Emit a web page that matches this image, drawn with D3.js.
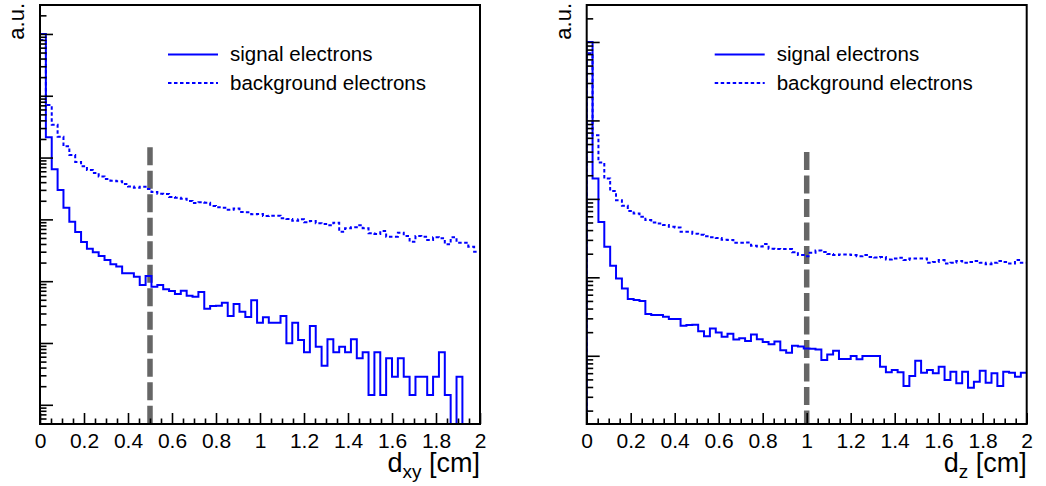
<!DOCTYPE html>
<html>
<head>
<meta charset="utf-8">
<script src="https://cdn.jsdelivr.net/npm/d3@7"></script>
<style>
  body { margin: 0; background: #fff; }
  svg { display: block; }
  text { font-family: "Liberation Sans", Arial, Helvetica, sans-serif; fill: #000; }
</style>
</head>
<body>
<svg id="chart" width="1046" height="486"></svg>
<script>
// histogram binning (both panels: 75 bins from 0 to 2 cm)
var nBins = 75;
var xRange = [0, 2];

var xMajorTicks = [0, 0.2, 0.4, 0.6, 0.8, 1, 1.2, 1.4, 1.6, 1.8, 2];
var legendLabels = ['signal electrons', 'background electrons'];

// d_xy panel, a.u.
var sigDxy = [
  1000000, 21300, 6470, 2990, 1545, 918, 625, 431, 336, 294,
  256, 220, 188, 172, 134, 134, 118, 86.8, 121, 81.5,
  86.8, 74, 69.4, 62.1, 70.2, 58.2, 56.1, 66.8, 35.9, 39.7,
  40.1, 44.9, 27.3, 42.8, 32.1, 26.4, 49.1, 21.3, 26.1, 21.3,
  21.3, 27.3, 9.89, 21.3, 11.2, 7.07, 18.8, 8.71, 4.29, 11.5,
  7.07, 8.71, 7.07, 11.5, 5.65, 7.07, 1.44, 7.07, 1.44, 5.65,
  2.85, 5.65, 2.85, 1.44, 2.85, 2.85, 1.44, 2.85, 7.07, 1.44,
  0, 2.85, 0, 0, 0
];
var bkgDxy = [
  800000, 71000, 34000, 21800, 15200, 11000, 8490, 7230, 6300, 5630,
  4950, 4500, 4230, 4140, 3740, 3410, 3260, 3380, 3100, 2770,
  2600, 2580, 2300, 2240, 2160, 1990, 1840, 1890, 1860, 1650,
  1570, 1545, 1435, 1500, 1318, 1303, 1210, 1222, 1135, 1148,
  1148, 1042, 1014, 953, 1004, 898, 942, 865, 843, 802,
  885, 632, 718, 745, 802, 718, 596, 581, 649, 525,
  525, 610, 538, 436, 538, 525, 464, 513, 494, 395,
  513, 420, 420, 362, 300
];

// d_z panel, a.u.
var sigDz = [
  10000, 182, 50.9, 24.5, 14.0, 9.68, 7.22, 5.28, 5.13, 4.98,
  3.40, 3.30, 3.30, 3.14, 2.94, 2.94, 2.41, 2.46, 2.48, 2.06,
  1.78, 2.23, 1.98, 1.75, 1.91, 1.61, 1.67, 1.54, 1.87, 1.62,
  1.50, 1.40, 1.52, 1.18, 1.09, 1.34, 1.31, 1.24, 1.23, 1.20,
  0.881, 1.04, 1.16, 0.908, 0.908, 0.991, 0.900, 0.991, 0.991, 0.991,
  0.724, 0.615, 0.657, 0.615, 0.411, 0.551, 0.864, 0.607, 0.657, 0.597,
  0.724, 0.490, 0.625, 0.445, 0.625, 0.391, 0.467, 0.644, 0.453, 0.597,
  0.411, 0.625, 0.607, 0.540, 0.607
];
var bkgDz = [
  7180, 648, 291, 182, 126, 96.3, 81.5, 70.3, 65.2, 59.0,
  53.6, 50.1, 48.6, 46.3, 44.0, 43.2, 38.0, 38.0, 36.0, 35.0,
  33.5, 32.5, 31.6, 30.2, 30.0, 27.5, 27.5, 27.7, 25.3, 24.8,
  26.5, 23.2, 23.0, 22.9, 22.9, 20.9, 19.2, 18.6, 20.5, 21.9,
  21.1, 19.8, 19.2, 19.6, 19.6, 19.2, 18.6, 19.2, 18.2, 17.9,
  18.2, 16.9, 17.4, 17.7, 16.6, 17.4, 17.4, 17.4, 15.3, 15.7,
  16.6, 15.0, 15.3, 16.2, 15.3, 15.7, 16.1, 15.3, 14.7, 15.3,
  16.1, 15.7, 15.0, 16.6, 15.3
];

// y ranges of the frames and the cut lines
var yDomDxy = [0.489, 2.94e6];
var yDomDz = [0.135, 29600];
var cutDxy = [0.5, 14700];
var cutDz = [1.0, 397];

var svg = d3.select('#chart');
var W = 440, H = 419;

function drawPanel(left, top, opts){
  var
    g = svg.append('g').attr('transform', 'translate(' + left + ',' + top + ')'),
    xScale = d3.scaleLinear().domain(xRange).range([0, W]),
    yScale = d3.scaleLog().domain(opts.yDomain).range([H, 0]),
    binW = (xRange[1] - xRange[0]) / nBins
    ;

  function Y(v){
    if(!(v > 0)) return H;
    return Math.max(0, Math.min(H, yScale(v)));
  }

  function stepPath(values){
    var pts = [[xScale(xRange[0]), H]];
    values.forEach(function(v, i){
      pts.push([xScale(xRange[0] + i * binW), Y(v)]);
    });
    pts.push([xScale(xRange[1]), Y(values[values.length - 1])]);
    return d3.line().curve(d3.curveStepAfter)(pts);
  }

  g.append('clipPath').attr('id', 'clip' + left)
    .append('rect').attr('width', W).attr('height', H);

  var plot = g.append('g').attr('clip-path', 'url(#clip' + left + ')');

  // cut line
  plot.append('line')
    .attr('x1', xScale(opts.cut[0])).attr('x2', xScale(opts.cut[0]))
    .attr('y1', yScale(opts.cut[1])).attr('y2', H)
    .attr('stroke', '#666').attr('stroke-width', 5.5)
    .attr('stroke-dasharray', '18,5.5');

  plot.append('path')
    .attr('d', stepPath(opts.bkg))
    .attr('fill', 'none').attr('stroke', '#0000ff').attr('stroke-width', 2)
    .attr('stroke-dasharray', '3.5,2.5');

  plot.append('path')
    .attr('d', stepPath(opts.sig))
    .attr('fill', 'none').attr('stroke', '#0000ff').attr('stroke-width', 2);

  // x axis, ticks point inwards
  var xMinor = d3.range(0, 41).map(function(i){ return i * 0.05; })
    .filter(function(v){ return Math.abs(v * 5 - Math.round(v * 5)) > 1e-6; });

  g.append('g')
    .attr('transform', 'translate(0,' + H + ')')
    .call(d3.axisBottom(xScale).tickValues(xMinor).tickSize(-5.5).tickSizeOuter(0).tickFormat(''))
    .call(function(a){ a.select('.domain').remove(); a.selectAll('line').attr('stroke-width', 1.6); });

  g.append('g')
    .attr('transform', 'translate(0,' + H + ')')
    .call(d3.axisBottom(xScale).tickValues(xMajorTicks).tickSize(-11).tickSizeOuter(0)
      .tickPadding(9).tickFormat(d3.format('~g')))
    .call(function(a){
      a.select('.domain').remove();
      a.selectAll('line').attr('stroke-width', 1.6);
      a.selectAll('text').attr('font-size', 21).attr('font-family', null);
    });

  // y axis, log ticks, no labels
  var lo = Math.floor(Math.log10(opts.yDomain[0])), hi = Math.ceil(Math.log10(opts.yDomain[1]));
  var yMajor = [], yMinor = [];
  d3.range(lo, hi + 1).forEach(function(e){
    var base = Math.pow(10, e);
    if(base >= opts.yDomain[0] && base <= opts.yDomain[1]) yMajor.push(base);
    d3.range(2, 10).forEach(function(k){
      var v = k * base;
      if(v >= opts.yDomain[0] && v <= opts.yDomain[1]) yMinor.push(v);
    });
  });

  g.append('g')
    .call(d3.axisLeft(yScale).tickValues(yMinor).tickSize(-6.5).tickSizeOuter(0).tickFormat(''))
    .call(function(a){ a.select('.domain').remove(); a.selectAll('line').attr('stroke-width', 1.6); });
  g.append('g')
    .call(d3.axisLeft(yScale).tickValues(yMajor).tickSize(-13).tickSizeOuter(0).tickFormat(''))
    .call(function(a){ a.select('.domain').remove(); a.selectAll('line').attr('stroke-width', 1.6); });

  // frame
  g.append('rect')
    .attr('width', W).attr('height', H)
    .attr('fill', 'none').attr('stroke', '#000').attr('stroke-width', 2);

  // axis titles
  var xt = g.append('text')
    .attr('x', W).attr('y', 472 - top)
    .attr('text-anchor', 'end').attr('font-size', 27);
  xt.append('tspan').text('d');
  xt.append('tspan').attr('font-size', 19).attr('dy', 6).text(opts.sub);
  xt.append('tspan').attr('dy', -6).text(' [cm]');

  g.append('text')
    .attr('transform', 'translate(' + (-16) + ',' + (-2) + ') rotate(-90)')
    .attr('text-anchor', 'end').attr('font-size', 22)
    .text('a.u.');

  // legend
  var leg = g.append('g').attr('transform', 'translate(128,0)');
  leg.append('line').attr('x1', 0).attr('x2', 50).attr('y1', 49.5).attr('y2', 49.5)
    .attr('stroke', '#0000ff').attr('stroke-width', 2);
  leg.append('line').attr('x1', 0).attr('x2', 50).attr('y1', 78).attr('y2', 78)
    .attr('stroke', '#0000ff').attr('stroke-width', 2).attr('stroke-dasharray', '3.5,2.5');
  leg.append('text').attr('x', 62).attr('y', 56).attr('font-size', 20.5).text(legendLabels[0]);
  leg.append('text').attr('x', 62).attr('y', 84.5).attr('font-size', 20.5).text(legendLabels[1]);
}

drawPanel(40, 5, {sig: sigDxy, bkg: bkgDxy, yDomain: yDomDxy, cut: cutDxy, sub: 'xy'});
drawPanel(586.7, 5, {sig: sigDz, bkg: bkgDz, yDomain: yDomDz, cut: cutDz, sub: 'z'});
</script>
</body>
</html>
